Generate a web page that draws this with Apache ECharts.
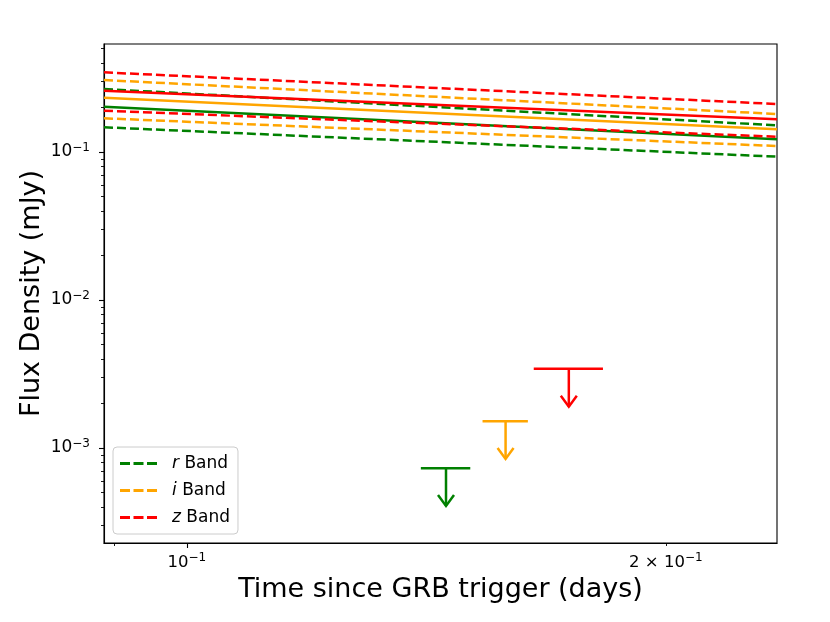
<!DOCTYPE html>
<html>
<head>
<meta charset="utf-8">
<script src="https://cdn.jsdelivr.net/npm/echarts@6/dist/echarts.min.js"></script>
<style>
  html, body { margin: 0; padding: 0; background: #fff; }
  #chart { width: 830px; height: 622px; }
</style>
</head>
<body>
<div id="chart"></div>
<script>
// axis limits (days, mJy)
const xRange = [0.0887, 0.2349];
const yRange = [2.28e-4, 0.537];

// tick values
const xMajorTicks = [0.1];
const xMinorTicks = [0.09, 0.2];
const xLabelValues = [0.1, 0.2];
const yMajorTicks = [0.1, 0.01, 0.001];
const yMinorTicks = [
  0.2, 0.3, 0.4, 0.5,
  0.02, 0.03, 0.04, 0.05, 0.06, 0.07, 0.08, 0.09,
  0.002, 0.003, 0.004, 0.005, 0.006, 0.007, 0.008, 0.009,
  0.0003, 0.0004, 0.0005, 0.0006, 0.0007, 0.0008, 0.0009
];

// model light curves, flux at the two ends of the time range
const lineTimes = [0.0887, 0.2349];
const rMid = [0.2023, 0.1218];
const rUpper = [0.2665, 0.1514];
const rLower = [0.1469, 0.0930];
const iMid = [0.2328, 0.1423];
const iUpper = [0.3065, 0.1807];
const iLower = [0.169, 0.1098];
const zMid = [0.2594, 0.1663];
const zUpper = [0.3455, 0.211];
const zLower = [0.190, 0.1269];

// upper limits: time, time lo, time hi, flux limit, arrow end
const limitTime = [0.1455, 0.1586, 0.1738];
const limitTimeLo = [0.1403, 0.1534, 0.1652];
const limitTimeHi = [0.1507, 0.1638, 0.1826];
const limitFlux = [7.29e-4, 1.515e-3, 3.43e-3];
const limitArrowEnd = [4.06e-4, 8.43e-4, 1.90e-3];

const bands = ["r", "i", "z"];
const bandColors = ["#008000", "#ffa500", "#ff0000"];

const chart = echarts.init(document.getElementById("chart"), null, { renderer: "canvas" });

const FONT = "DejaVu Sans";
const supRich = {
  sup: { fontSize: 12, fontFamily: FONT, color: "#000", padding: [0, 0, 9, 0] },
};

function pts(vals) {
  return lineTimes.map((t, k) => [t, vals[k]]);
}

function curve(name, vals, color, dashed) {
  return {
    name: name,
    type: "line",
    data: pts(vals),
    showSymbol: false,
    symbol: "none",
    color: color,
    clip: true,
    silent: true,
    lineStyle: { color: color, width: 2.5, type: dashed ? [9, 4] : "solid" },
  };
}

function sameVal(a, b) {
  return Math.abs(a - b) / b < 1e-6;
}

const series = [];
const mids = [rMid, iMid, zMid];
const uppers = [rUpper, iUpper, zUpper];
const lowers = [rLower, iLower, zLower];
bands.forEach((b, k) => {
  series.push(curve(b + " model", mids[k], bandColors[k], false));
  series.push(curve(b + " Band", uppers[k], bandColors[k], true));
  series.push(curve(b + " lower", lowers[k], bandColors[k], true));
});

series.push({
  name: "limits",
  type: "custom",
  clip: true,
  silent: true,
  encode: { x: [0, 1, 2], y: [3, 4] },
  data: limitTime.map((t, k) => [t, limitTimeLo[k], limitTimeHi[k], limitFlux[k], limitArrowEnd[k]]),
  renderItem: function (params, api) {
    const col = bandColors[params.dataIndex];
    const c = api.coord([api.value(0), api.value(3)]);
    const lo = api.coord([api.value(1), api.value(3)]);
    const hi = api.coord([api.value(2), api.value(3)]);
    const tip = api.coord([api.value(0), api.value(4)]);
    const st = { stroke: col, lineWidth: 2.5, fill: null };
    return {
      type: "group",
      children: [
        { type: "line", shape: { x1: lo[0], y1: lo[1], x2: hi[0], y2: hi[1] }, style: st },
        { type: "line", shape: { x1: c[0], y1: c[1], x2: tip[0], y2: tip[1] }, style: st },
        {
          type: "polyline",
          shape: { points: [[tip[0] - 8, tip[1] - 11], [tip[0], tip[1]], [tip[0] + 8, tip[1] - 11]] },
          style: st,
        },
      ],
    };
  },
});

const option = {
  animation: false,
  backgroundColor: "#fff",
  textStyle: { fontFamily: FONT },
  grid: {
    left: 104,
    right: 53,
    top: 44,
    bottom: 79,
    show: true,
    borderColor: "#000",
    borderWidth: 1.1,
    backgroundColor: "transparent",
  },
  legend: {
    data: bands.map((b) => b + " Band"),
    orient: "vertical",
    left: 113,
    top: 447,
    padding: [8, 8, 8, 7],
    itemGap: 10,
    itemWidth: 37,
    itemHeight: 3,
    icon: "path://M0,0H10V3H0Z M13.5,0H23.5V3H13.5Z M27,0H37V3H27Z",
    selectedMode: false,
    borderColor: "#cccccc",
    borderWidth: 1,
    borderRadius: 4,
    backgroundColor: "rgba(255,255,255,0.8)",
    formatter: function (name) {
      return "{sp|}{it|" + name.charAt(0) + "} Band";
    },
    textStyle: {
      fontFamily: FONT,
      fontSize: 17,
      color: "#000",
      rich: {
        sp: { width: 10 },
        it: { fontStyle: "italic", fontFamily: FONT, fontSize: 17, color: "#000" },
      },
    },
  },
  xAxis: [
    {
      type: "log",
      logBase: 10,
      position: "bottom",
      min: xRange[0],
      max: xRange[1],
      name: "Time since GRB trigger (days)",
      nameLocation: "middle",
      nameGap: 33,
      nameMoveOverlap: false,
      nameTextStyle: { fontFamily: FONT, fontSize: 27, color: "#000" },
      axisLine: { show: true, lineStyle: { color: "#000", width: 1.1 } },
      axisTick: { show: true, length: 5, customValues: xMajorTicks, lineStyle: { color: "#000", width: 1.1 } },
      axisLabel: {
        show: true,
        customValues: xLabelValues,
        margin: 9,
        fontFamily: FONT,
        fontSize: 16.5,
        color: "#000",
        rich: supRich,
        formatter: function (v) {
          if (sameVal(v, 0.1)) return "10{sup|−1}";
          if (sameVal(v, 0.2)) return "2 × 10{sup|−1}";
          return "";
        },
      },
      splitLine: { show: false },
      minorTick: { show: false },
    },
    {
      type: "log",
      logBase: 10,
      position: "bottom",
      min: xRange[0],
      max: xRange[1],
      axisLine: { show: false },
      axisTick: { show: true, length: 3, customValues: xMinorTicks, lineStyle: { color: "#000", width: 0.9 } },
      axisLabel: { show: false },
      splitLine: { show: false },
    },
  ],
  yAxis: [
    {
      type: "log",
      logBase: 10,
      position: "left",
      min: yRange[0],
      max: yRange[1],
      name: "Flux Density (mJy)",
      nameLocation: "middle",
      nameGap: 59,
      nameMoveOverlap: false,
      nameTextStyle: { fontFamily: FONT, fontSize: 27, color: "#000" },
      axisLine: { show: true, lineStyle: { color: "#000", width: 1.1 } },
      axisTick: { show: true, length: 5, customValues: yMajorTicks, lineStyle: { color: "#000", width: 1.1 } },
      axisLabel: {
        show: true,
        customValues: yMajorTicks,
        margin: 14,
        fontFamily: FONT,
        fontSize: 17,
        color: "#000",
        rich: supRich,
        formatter: function (v) {
          const e = Math.round(Math.log10(v));
          return "10{sup|−" + Math.abs(e) + "}";
        },
      },
      splitLine: { show: false },
    },
    {
      type: "log",
      logBase: 10,
      position: "left",
      min: yRange[0],
      max: yRange[1],
      axisLine: { show: false },
      axisTick: { show: true, length: 3, customValues: yMinorTicks, lineStyle: { color: "#000", width: 0.9 } },
      axisLabel: { show: false },
      splitLine: { show: false },
    },
  ],
  series: series,
};

chart.setOption(option);
</script>
</body>
</html>
